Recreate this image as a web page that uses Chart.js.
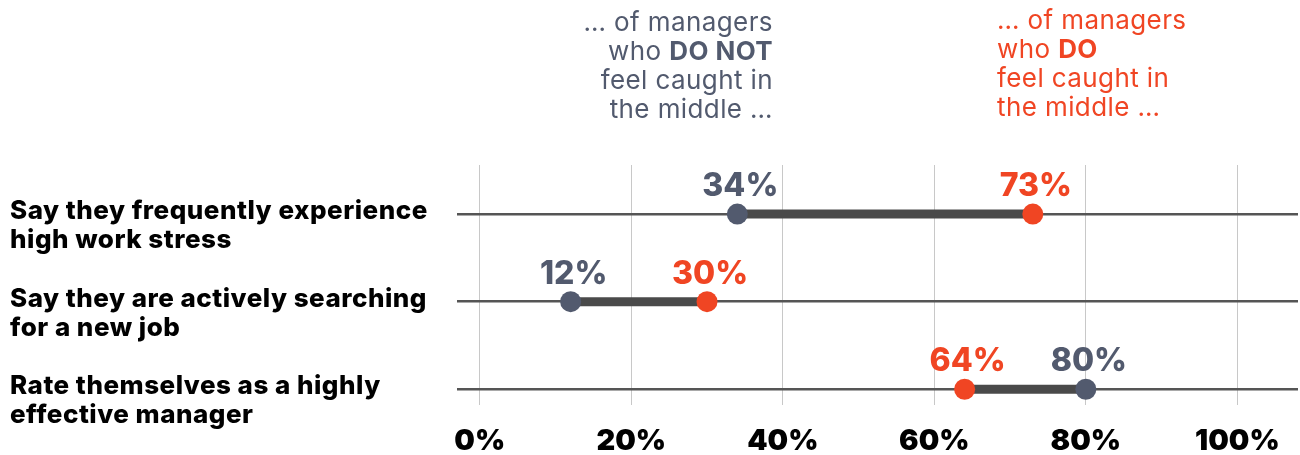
<!DOCTYPE html>
<html>
<head>
<meta charset="utf-8">
<script src="https://cdn.jsdelivr.net/npm/chart.js@4"></script>
<style>
  body { margin: 0; background: #fff; font-family: Inter, sans-serif; }
  #wrap { position: relative; width: 1300px; height: 455px; }
  .note { position: absolute; font-size: 26px; line-height: 29px; letter-spacing: 0.4px; }
  #noteNot { right: 527px; top: 7px; text-align: right; color: #525a6e; }
  #noteDo { left: 997px; top: 5px; text-align: left; color: #f04523; }
  .note b { font-weight: 700; }
</style>
</head>
<body>
<div id="wrap">
  <canvas id="myChart" width="1300" height="455"></canvas>
  <div class="note" id="noteNot">… of managers<br>who <b>DO NOT</b><br>feel caught in<br>the middle …</div>
  <div class="note" id="noteDo">… of managers<br>who <b>DO</b><br>feel caught in<br>the middle …</div>
</div>
<script>
"use strict";

// row labels (each one split into its two lines)
var categories = [
	["Say they frequently experience", "high work stress"],
	["Say they are actively searching", "for a new job"],
	["Rate themselves as a highly", "effective manager"]
];
// managers who do NOT feel caught in the middle
var notCaught = [34, 12, 80];
// managers who DO feel caught in the middle
var caught = [73, 30, 64];
var xTicks = [0, 20, 40, 60, 80, 100];

var GRAY = "#525a6e";
var RED = "#f04523";

// one thick line per row between the two dots
var connectors = categories.map(function (c, i) {
	return {
		type: "line",
		data: [{ x: notCaught[i], y: i }, { x: caught[i], y: i }],
		borderColor: "#4a4a4a",
		borderWidth: 9,
		pointRadius: 0,
		order: 3
	};
});

function dots(values, color) {
	return {
		type: "line",
		showLine: false,
		data: values.map(function (v, i) { return { x: v, y: i }; }),
		pointRadius: 10.5,
		pointHoverRadius: 10.5,
		pointBackgroundColor: color,
		pointBorderWidth: 0,
		valueColor: color,
		order: 1
	};
}

// draws the percentage above every dot and the row labels on the left
var labelsPlugin = {
	id: "labelsPlugin",
	afterDatasetsDraw: function (chart) {
		var ctx = chart.ctx;
		ctx.save();
		ctx.font = "800 32px Inter";
		ctx.textAlign = "center";
		ctx.textBaseline = "alphabetic";
		chart.data.datasets.forEach(function (ds, di) {
			if (!ds.valueColor) return;
			var meta = chart.getDatasetMeta(di);
			ctx.fillStyle = ds.valueColor;
			meta.data.forEach(function (pt, i) {
				ctx.fillText(ds.data[i].x + "%", pt.x + 3, pt.y - 18);
			});
		});

		var yScale = chart.scales.y;
		ctx.font = "800 26px Inter";
		ctx.letterSpacing = "0.5px";
		ctx.textAlign = "left";
		ctx.fillStyle = "#000";
		categories.forEach(function (lines, i) {
			var y = yScale.getPixelForValue(i);
			lines.forEach(function (t, j) {
				ctx.fillText(t, 10, y + 5 + j * 29);
			});
		});
		ctx.restore();
	}
};

function buildChart() {
	var ctx = document.getElementById("myChart");
	new Chart(ctx, {
		type: "line",
		data: {
			datasets: [dots(notCaught, GRAY), dots(caught, RED)].concat(connectors)
		},
		plugins: [labelsPlugin],
		options: {
			responsive: false,
			animation: false,
			layout: { autoPadding: false, padding: { top: 165, left: 10, right: 2, bottom: 0 } },
			plugins: { legend: { display: false }, tooltip: { enabled: false } },
			scales: {
				x: {
					type: "linear",
					min: -3,
					max: 108,
					afterBuildTicks: function (scale) {
						scale.ticks = xTicks.map(function (v) { return { value: v }; });
					},
					afterFit: function (scale) {
						scale.height = 50;
						scale.paddingLeft = 0;
						scale.paddingRight = 0;
					},
					grid: { color: "#c8c8c8", lineWidth: 1, drawTicks: false },
					border: { display: false },
					ticks: {
						padding: 19,
						color: "#000",
						font: { family: "Inter", size: 29, weight: "900" },
						callback: function (v) { return v + "%"; }
					}
				},
				y: {
					type: "linear",
					reverse: true,
					min: -0.56,
					max: 2.18,
					afterBuildTicks: function (scale) {
						scale.ticks = categories.map(function (c, i) { return { value: i }; });
					},
					afterFit: function (scale) { scale.width = 447; },
					grid: { color: "#555", lineWidth: 2.5, drawTicks: false },
					border: { display: false },
					ticks: { display: false }
				}
			}
		}
	});
}

buildChart();
</script>
</body>
</html>
